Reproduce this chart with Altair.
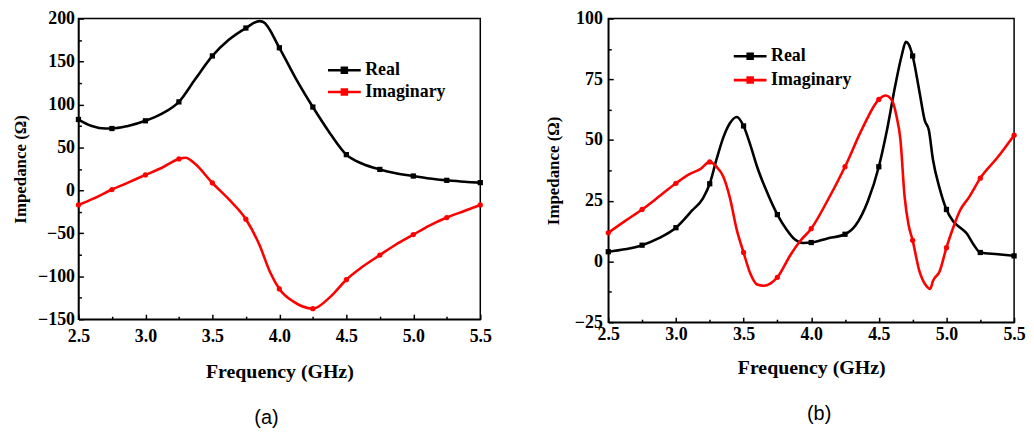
import altair as alt
import pandas as pd

# ---------------- panel (a) ----------------
a_real_f = [2.5, 2.6, 2.7, 2.75, 2.87, 3.0, 3.12, 3.25, 3.37, 3.5, 3.62, 3.75, 3.85, 3.88, 4.0,
            4.12, 4.25, 4.38, 4.5, 4.62, 4.75, 4.87, 5.0, 5.12, 5.25, 5.38, 5.5]
a_real_v = [82.5, 75, 72, 72, 75, 81, 89, 103, 129, 156.5, 175, 189, 197, 196, 166,
            131, 97, 66, 41.6, 31, 24.4, 20, 16.7, 13.8, 11.7, 10, 9]
a_imag_f = [2.5, 2.62, 2.75, 2.87, 3.0, 3.12, 3.25, 3.3, 3.37, 3.5, 3.62, 3.75, 3.85, 3.93, 4.0,
            4.1, 4.25, 4.38, 4.5, 4.62, 4.75, 4.87, 5.0, 5.12, 5.25, 5.38, 5.5]
a_imag_v = [-17, -9, 1, 9, 18, 26, 36.6, 38, 31, 8.6, -10, -33.6, -63, -95, -114.7,
            -129, -137.7, -124, -104, -89, -75.3, -63, -51.5, -41, -31.6, -24, -17]

# ---------------- panel (b) ----------------
b_real_f = [2.5, 2.62, 2.75, 2.87, 3.0, 3.12, 3.2, 3.25, 3.3, 3.35, 3.4, 3.45, 3.5, 3.55, 3.6,
            3.67, 3.75, 3.82, 3.88, 3.94, 4.0, 4.12, 4.25, 4.33, 4.42, 4.5, 4.56, 4.62, 4.67,
            4.7, 4.72, 4.75, 4.8, 4.84, 4.87, 4.9, 4.95, 5.0, 5.05, 5.1, 5.15, 5.2, 5.25,
            5.38, 5.5]
b_real_v = [4, 5, 6.7, 9.5, 13.9, 21, 26, 32, 42, 51, 57, 59.5, 55.8, 48, 39,
            29, 19.3, 13, 9, 7.6, 7.8, 9.5, 11.2, 15, 25, 39, 54, 72, 85,
            90.4, 89.5, 84.6, 70, 58, 54, 42, 30, 21.4, 16.5, 14, 11.5, 7, 3.7,
            3, 2.3]
b_imag_f = [2.5, 2.62, 2.75, 2.87, 3.0, 3.1, 3.18, 3.25, 3.3, 3.35, 3.4, 3.45, 3.5, 3.55, 3.6,
            3.65, 3.7, 3.75, 3.85, 3.92, 4.0, 4.12, 4.25, 4.38, 4.5, 4.55, 4.6, 4.63, 4.66,
            4.69, 4.72, 4.75, 4.8, 4.85, 4.88, 4.9, 4.95, 5.0, 5.05, 5.1, 5.17, 5.25, 5.38,
            5.5]
b_imag_v = [11.8, 16.5, 21.4, 26.5, 32.2, 36, 38, 41, 39, 35, 26, 13, 3.7, -5, -9.5,
            -10, -9, -6.5, 3, 8.5, 13.5, 25, 39, 55, 66.7, 68.3, 66, 60, 50,
            27, 15, 8.7, -4, -10, -11.3, -8, -4, 5.7, 14, 21, 26.7, 34.3, 43,
            52]

series_names = ["Real", "Imaginary"]
series_colors = ["black", "#ff0000"]
series_shapes = ["square", "circle"]

x_major = [2.5, 3.0, 3.5, 4.0, 4.5, 5.0, 5.5]
x_minor = [2.75, 3.25, 3.75, 4.25, 4.75, 5.25]
a_y_major = [-150, -100, -50, 0, 50, 100, 150, 200]
a_y_minor = [-125, -75, -25, 25, 75, 125, 175]
b_y_major = [-25, 0, 25, 50, 75, 100]
b_y_minor = [-12.5, 12.5, 37.5, 62.5, 87.5]

SERIF = "Liberation Serif"
# legend glyph: a line with a small marker in its middle (unit = sqrt(size)/2 px)
LEG_PATH = "M-1,0L5,0M1.55,-0.45L2.45,-0.45L2.45,0.45L1.55,0.45Z"


def make_df(fr, vals, name):
    i = series_names.index(name)
    df = pd.DataFrame({"f": fr, "z": vals})
    df["series"] = name
    df["col"] = series_colors[i]
    df["shp"] = series_shapes[i]
    df["marker"] = [abs(v * 4 - round(v * 4)) < 1e-9 for v in fr]
    return df


TXT = dict(labelFont=SERIF, labelFontWeight="bold", labelColor="black",
           titleFont=SERIF, titleFontWeight="bold", titleColor="black",
           domainColor="black", domainWidth=1.5, tickColor="black", tickWidth=1.5, grid=False)


def panel(df, ydom, ymaj, ymin, lx, ly, rowpad, caption, cap_dx, w, h, xpad, xtpad,
          ypad, ytpad):
    xs = alt.Scale(domain=[2.5, 5.5], nice=False, zero=False)
    ys = alt.Scale(domain=ydom, nice=False, zero=False)
    base = alt.Chart(df)
    line = base.mark_line(strokeWidth=2.6, interpolate="monotone").encode(
        x=alt.X("f:Q", scale=xs, axis=alt.Axis(
            values=x_major, format=".1f", title="Frequency (GHz)", labelFontSize=18,
            titleFontSize=20, tickSize=alt.ExprRef(expr="-5"), labelPadding=xpad,
            labelFlush=False, titlePadding=xtpad, **TXT)),
        y=alt.Y("z:Q", scale=ys, axis=alt.Axis(
            values=ymaj, format="d", title="Impedance (\u03a9)", labelFontSize=18,
            titleFontSize=17, tickSize=alt.ExprRef(expr="-5"), labelPadding=ypad,
            labelFlush=False, titlePadding=ytpad, **TXT)),
        color=alt.Color("series:N", scale=alt.Scale(domain=series_names, range=series_colors),
                        legend=alt.Legend(title=None, orient="none", legendX=lx, legendY=ly,
                                          symbolType=LEG_PATH, symbolSize=121,
                                          symbolStrokeWidth=2.6, labelFont=SERIF,
                                          labelFontSize=18, labelFontWeight="bold",
                                          labelColor="black", rowPadding=rowpad,
                                          labelOffset=23)),
        detail="series:N",
    )
    pts = base.mark_point(filled=True, size=28, opacity=1).encode(
        x=alt.X("f:Q", scale=xs, axis=alt.Axis(
            values=x_minor, labels=False, title=None, domain=False, orient="bottom",
            tickSize=alt.ExprRef(expr="-3"), tickColor="black", tickWidth=1.5, grid=False)),
        y=alt.Y("z:Q", scale=ys, axis=alt.Axis(
            values=ymin, labels=False, title=None, domain=False, orient="left",
            tickSize=alt.ExprRef(expr="-3"), tickColor="black", tickWidth=1.5, grid=False)),
        color=alt.Color("col:N", scale=None),
        shape=alt.Shape("shp:N", scale=None),
    ).transform_filter("datum.marker")
    return alt.layer(line, pts).resolve_axis(x="independent", y="independent").properties(
        width=w, height=h,
        title=alt.TitleParams(caption, orient="bottom", font="Liberation Sans", fontSize=20,
                              fontWeight="normal", color="black", dx=cap_dx, offset=27),
    )


df_a = pd.concat([make_df(a_real_f, a_real_v, "Real"), make_df(a_imag_f, a_imag_v, "Imaginary")])
df_b = pd.concat([make_df(b_real_f, b_real_v, "Real"), make_df(b_imag_f, b_imag_v, "Imaginary")])

pa = panel(df_a, [-150, 200], a_y_major, a_y_minor, 248, 43, 4, "(a)", -13, 405, 303, 13, 17,
           9, 8)
pb = panel(df_b, [-25, 100], b_y_major, b_y_minor, 123, 29, 6, "(b)", 8, 409, 306, 8, 15,
           11, 12)

chart = alt.hconcat(pa, pb, spacing=51).resolve_scale(
    color="independent").resolve_legend(color="independent").properties(
    padding={"left": 2, "top": -1, "right": 0, "bottom": 0}
).configure_view(stroke="black", strokeWidth=1.5)

chart.save("out.html", embed_options={"renderer": "svg", "actions": False})
